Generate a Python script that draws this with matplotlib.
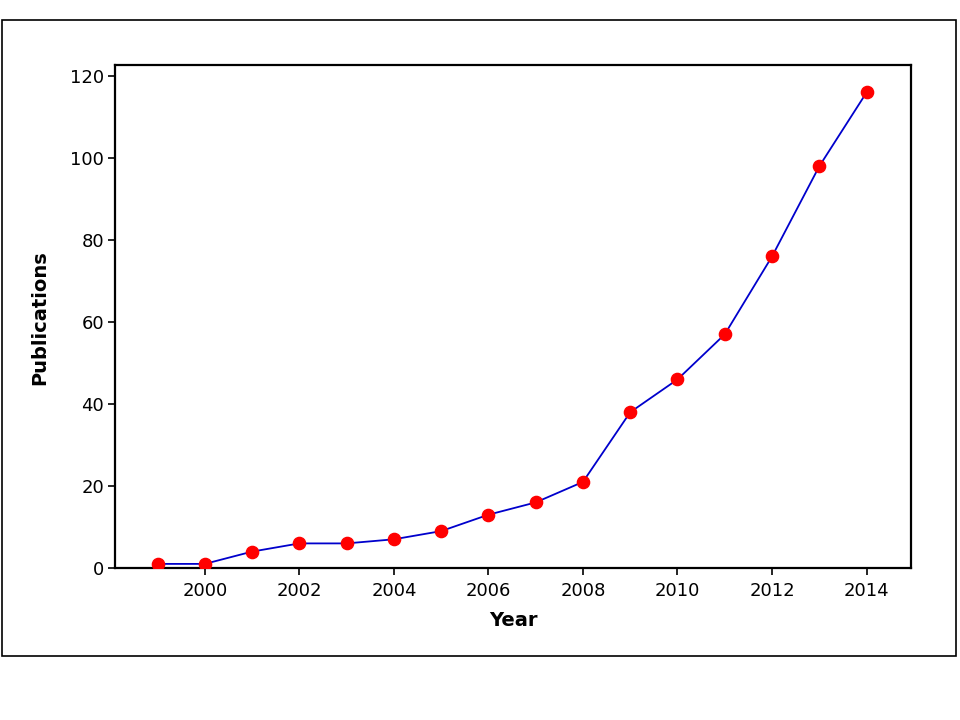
import matplotlib
matplotlib.use("Agg")
import matplotlib.pyplot as plt
from matplotlib.patches import Rectangle

years = [1999, 2000, 2001, 2002, 2003, 2004, 2005, 2006, 2007, 2008, 2009, 2010, 2011, 2012, 2013, 2014]
publications = [1, 1, 4, 6, 6, 7, 9, 13, 16, 21, 38, 46, 57, 76, 98, 116]
x_ticks = [2000, 2002, 2004, 2006, 2008, 2010, 2012, 2014]
y_ticks = [0, 20, 40, 60, 80, 100, 120]

plt.rcParams['font.family'] = ['DejaVu Sans']

fig = plt.figure(figsize=(9.6, 7.2), dpi=100)
ax = fig.add_axes([115/960, 1-568/720, (911-115)/960, (568-65)/720])

ax.plot(years, publications, color='#0000cc', linewidth=1.3, marker='o',
        markersize=8.8, markerfacecolor='#ff0000', markeredgecolor='#ff0000', zorder=3)

ax.set_xlim(1998.1, 2014.94)
ax.set_ylim(0, 122.7)
ax.set_xticks(x_ticks)
ax.set_xticklabels([str(t) for t in x_ticks])
ax.set_yticks(y_ticks)
ax.set_yticklabels([str(t) for t in y_ticks])
ax.tick_params(axis='both', direction='out', length=5, width=1.2, labelsize=13, pad=3, colors='black')
ax.tick_params(axis='x', pad=5)
for s in ax.spines.values():
    s.set_linewidth(1.6)
ax.tick_params(top=False, right=False)

ax.set_xlabel('Year', fontsize=14, fontweight='bold', labelpad=8)
ax.set_ylabel('Publications', fontsize=14, fontweight='bold')
ax.yaxis.set_label_coords(-0.083, 0.497)

frame = Rectangle((1.5/960, 1-656/720), (956-1.5)/960, (656-20)/720, transform=fig.transFigure,
                  fill=False, edgecolor='black', linewidth=1.2)
fig.patches.append(frame)

fig.savefig('out.png', dpi=100)
